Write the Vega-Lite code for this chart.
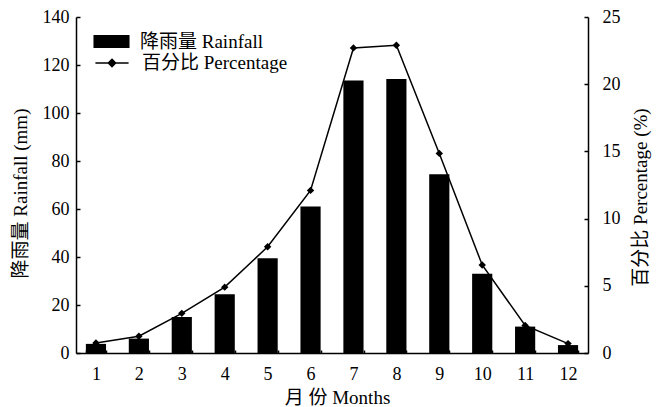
{
  "$schema": "https://vega.github.io/schema/vega-lite/v6.json",
  "width": 512,
  "height": 336,
  "autosize": {"type": "none"},
  "padding": {"left": 76, "top": 17, "right": 72, "bottom": 54},
  "background": "white",
  "config": {
    "font": "Liberation Serif, Noto Sans CJK SC",
    "view": {"stroke": null},
    "axis": {
      "grid": false,
      "domainColor": "black",
      "domainWidth": 1.5,
      "tickColor": "black",
      "tickWidth": 1.5,
      "labelColor": "black",
      "titleColor": "black",
      "labelFont": "Liberation Serif, Noto Sans CJK SC",
      "titleFont": "Liberation Serif, Noto Sans CJK SC",
      "labelFontSize": 18,
      "titleFontSize": 19,
      "titleFontWeight": "normal",
      "titleBaseline": "middle",
      "titleAlign": "center"
    },
    "legend": {
      "labelFont": "Liberation Serif, Noto Sans CJK SC",
      "labelFontSize": 19,
      "labelColor": "black",
      "padding": 0
    }
  },
  "data": {
    "values": [
      {"month": 1, "rainfall": 3.8, "pct": 0.75},
      {"month": 2, "rainfall": 6.0, "pct": 1.25},
      {"month": 3, "rainfall": 15.0, "pct": 2.95},
      {"month": 4, "rainfall": 24.5, "pct": 4.9},
      {"month": 5, "rainfall": 39.5, "pct": 7.9},
      {"month": 6, "rainfall": 61.0, "pct": 12.1},
      {"month": 7, "rainfall": 113.5, "pct": 22.7},
      {"month": 8, "rainfall": 114.2, "pct": 22.9},
      {"month": 9, "rainfall": 74.5, "pct": 14.85},
      {"month": 10, "rainfall": 33.0, "pct": 6.55},
      {"month": 11, "rainfall": 11.0, "pct": 2.05},
      {"month": 12, "rainfall": 3.3, "pct": 0.7}
    ]
  },
  "layer": [
    {
      "mark": {"type": "bar"},
      "encoding": {
        "x": {
          "field": "month",
          "type": "ordinal",
          "scale": {"paddingInner": 0.53, "paddingOuter": 0.23},
          "axis": {
            "title": "月 份  Months",
            "titleX": 261,
            "titleY": 44,
            "labelAngle": 0,
            "tickBand": "extent",
            "tickSize": -3,
            "labelPadding": 15
          }
        },
        "y": {
          "field": "rainfall",
          "type": "quantitative",
          "scale": {"domain": [0, 140]},
          "axis": {
            "title": "降雨量  Rainfall (mm)",
            "titleX": -56,
            "titleY": 176,
            "values": [0, 20, 40, 60, 80, 100, 120, 140],
            "tickSize": -4,
            "labelPadding": 11
          }
        },
        "fill": {
          "datum": "降雨量 Rainfall",
          "scale": {"range": ["black"]},
          "legend": {
            "orient": "none",
            "legendX": 17,
            "legendY": 6,
            "title": null,
            "symbolType": "M-1,-0.36H1V0.36H-1Z",
            "symbolSize": 1300,
            "symbolStrokeWidth": 0,
            "labelOffset": 10
          }
        }
      }
    },
    {
      "mark": {"type": "line", "interpolate": "linear", "strokeWidth": 1.5},
      "encoding": {
        "x": {"field": "month", "type": "ordinal"},
        "y": {
          "field": "pct",
          "type": "quantitative",
          "scale": {"domain": [0, 25]},
          "axis": {
            "orient": "right",
            "title": "百分比  Percentage (%)",
            "titleAngle": 270,
            "titleX": 52,
            "titleY": 180,
            "values": [0, 5, 10, 15, 20, 25],
            "tickSize": -4,
            "labelPadding": 18
          }
        },
        "stroke": {
          "datum": "百分比 Percentage",
          "scale": {"range": ["black"]},
          "legend": {
            "orient": "none",
            "legendX": 18.5,
            "legendY": 28.5,
            "title": null,
            "symbolType": "M-1,0H1M0,-0.22L0.22,0L0,0.22L-0.22,0Z",
            "symbolSize": 1100,
            "symbolStrokeWidth": 1.5,
            "symbolFillColor": "black",
            "labelOffset": 12.5,
            "encode": {"symbols": {"update": {"fill": {"value": "black"}, "stroke": {"value": "black"}}}}
          }
        }
      }
    },
    {
      "mark": {"type": "point", "shape": "diamond", "filled": true, "color": "black", "size": 55, "opacity": 1},
      "encoding": {
        "x": {"field": "month", "type": "ordinal"},
        "y": {"field": "pct", "type": "quantitative", "scale": {"domain": [0, 25]}, "axis": null}
      }
    }
  ],
  "resolve": {"scale": {"y": "independent"}}
}
